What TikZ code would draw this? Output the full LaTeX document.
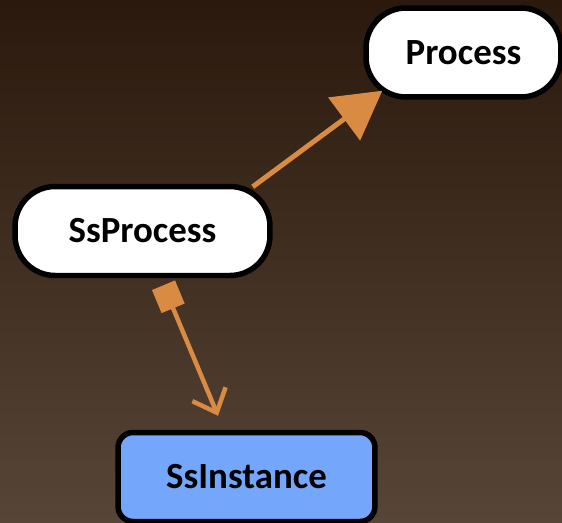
\documentclass[tikz,border=0pt]{standalone}
\usepackage{fontspec}
\setmainfont{Carlito}
\usetikzlibrary{arrows.meta,positioning}
\definecolor{bark}{HTML}{2A190C}
\definecolor{barkmid}{HTML}{3B2614}
\definecolor{barklight}{HTML}{574637}
\definecolor{chalk}{HTML}{D98A43}
\definecolor{instblue}{HTML}{74A6FB}
\tikzset{classbox/.style={draw=black, line width=0.11cm, fill=white, rounded corners=0.8cm, minimum height=1.78cm, inner sep=0pt, font=\fontsize{21}{25}\selectfont\bfseries}}
\tikzset{instbox/.style={classbox, fill=instblue, rounded corners=0.3cm}}
\tikzset{inherit/.style={draw=chalk, line width=0.1cm, -{Triangle[length=0.95cm,width=1.05cm]}}}
\tikzset{owns/.style={draw=chalk, line width=0.09cm, {Square[length=0.5cm,width=0.5cm]}-{Straight Barb[length=0.4cm,width=0.72cm]}}}

\begin{document}
\begin{tikzpicture}[x=0.02cm,y=-0.02cm]
    \useasboundingbox (0,0) rectangle (562,522);
    \shade[top color=bark, middle color=barkmid, bottom color=barklight] (0,0) rectangle (562,522);

    \node[classbox, minimum width=5.1cm] (ssprocess) at (142.5,231) {SsProcess};
    \node[classbox, minimum width=3.9cm] (process) at (463.5,52.5) {Process};
    \node[instbox, minimum width=5.14cm] (ssinstance) at (246.5,477) {SsInstance};

    \draw[inherit] ([xshift=-0.4cm,yshift=-0.06cm]ssprocess.north east) -- ([xshift=0.38cm,yshift=0.18cm]process.south west);
    \draw[owns] ([xshift=0.42cm,yshift=-0.14cm]ssprocess.south) -- ([xshift=-0.57cm,yshift=0.28cm]ssinstance.north);
\end{tikzpicture}
\end{document}
